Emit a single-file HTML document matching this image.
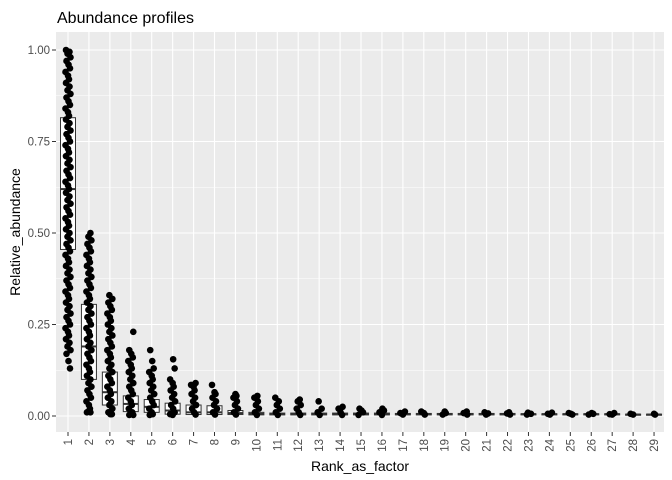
<!DOCTYPE html>
<html><head><meta charset="utf-8"><style>
body{margin:0;background:#fff;}
svg{display:block;font-family:"Liberation Sans",Arial,sans-serif;}
</style></head><body>
<svg id="chart" width="672" height="480" viewBox="0 0 672 480">
<text x="57" y="23" font-size="16" fill="#000">Abundance profiles</text>
<rect x="56" y="32" width="608" height="400" fill="#ebebeb"/>
<g id="grid"></g><g id="boxes"></g><g id="pts"></g><g id="axes"></g>
<text x="360" y="471" font-size="14" text-anchor="middle" fill="#000">Rank_as_factor</text>
<text transform="translate(20,232) rotate(-90)" font-size="14" text-anchor="middle" fill="#000">Relative_abundance</text>
</svg>
<script>
const categories = ["1","2","3","4","5","6","7","8","9","10","11","12","13","14","15","16","17","18","19","20","21","22","23","24","25","26","27","28","29"];
const q1 = [0.455,0.10,0.03,0.012,0.01,0.005,0.004,0.004,0.004,0.003,0.003,0.003,0.003,0.003,0.003,0.003,0.003,0.003,0.003,0.003,0.003,0.003,0.003,0.003,0.003,0.003,0.003,0.002,0.002];
const medians = [0.62,0.19,0.065,0.033,0.025,0.015,0.01,0.01,0.008,0.006,0.005,0.005,0.005,0.005,0.005,0.005,0.005,0.005,0.005,0.005,0.005,0.005,0.005,0.005,0.005,0.005,0.005,0.004,0.004];
const q3 = [0.815,0.305,0.12,0.055,0.045,0.035,0.03,0.028,0.015,0.01,0.008,0.008,0.008,0.008,0.008,0.008,0.007,0.007,0.007,0.007,0.007,0.007,0.006,0.006,0.006,0.006,0.006,0.005,0.005];
const points = [
 [1.0,0.995,0.99,0.98,0.97,0.96,0.95,0.94,0.93,0.92,0.91,0.90,0.89,0.88,0.87,0.86,0.85,0.84,0.83,0.82,0.81,0.80,0.79,0.78,0.77,0.76,0.75,0.74,0.73,0.72,0.71,0.70,0.69,0.68,0.67,0.66,0.65,0.64,0.63,0.62,0.61,0.60,0.59,0.58,0.57,0.56,0.55,0.54,0.53,0.52,0.51,0.50,0.49,0.48,0.47,0.46,0.45,0.44,0.43,0.42,0.41,0.40,0.39,0.38,0.37,0.36,0.35,0.34,0.33,0.32,0.31,0.30,0.29,0.28,0.27,0.26,0.25,0.24,0.23,0.22,0.21,0.20,0.19,0.18,0.17,0.15,0.13],
 [0.50,0.49,0.48,0.47,0.46,0.45,0.44,0.43,0.42,0.41,0.40,0.39,0.38,0.37,0.36,0.35,0.34,0.33,0.32,0.31,0.30,0.29,0.28,0.27,0.26,0.25,0.24,0.23,0.22,0.21,0.20,0.19,0.18,0.17,0.16,0.15,0.14,0.13,0.12,0.11,0.10,0.09,0.08,0.07,0.06,0.05,0.04,0.03,0.02,0.01,0.01,0.012],
 [0.33,0.32,0.31,0.30,0.29,0.28,0.27,0.26,0.25,0.24,0.23,0.22,0.21,0.20,0.19,0.18,0.17,0.16,0.15,0.14,0.13,0.12,0.11,0.10,0.09,0.08,0.07,0.06,0.05,0.04,0.03,0.02,0.01,0.005,0.005],
 [0.23,0.18,0.17,0.16,0.15,0.14,0.13,0.12,0.11,0.10,0.09,0.08,0.07,0.06,0.05,0.04,0.03,0.02,0.01,0.005,0.003,0.003],
 [0.18,0.15,0.13,0.12,0.11,0.10,0.09,0.08,0.07,0.06,0.05,0.04,0.03,0.02,0.01,0.005,0.003],
 [0.155,0.13,0.10,0.09,0.08,0.07,0.06,0.05,0.04,0.03,0.02,0.01,0.005,0.003],
 [0.09,0.085,0.08,0.07,0.06,0.05,0.04,0.03,0.02,0.01,0.004],
 [0.085,0.065,0.06,0.05,0.04,0.03,0.02,0.01,0.004],
 [0.06,0.055,0.05,0.04,0.03,0.02,0.01,0.004],
 [0.055,0.05,0.04,0.03,0.02,0.01,0.003],
 [0.05,0.04,0.03,0.02,0.01,0.003],
 [0.045,0.04,0.03,0.02,0.01,0.003],
 [0.04,0.02,0.01,0.003],
 [0.025,0.02,0.01,0.003],
 [0.02,0.015,0.01,0.003],
 [0.02,0.015,0.01,0.003],
 [0.012,0.008,0.004],[0.012,0.008,0.004],[0.012,0.008,0.004],[0.012,0.008,0.004],
 [0.01,0.007,0.004],[0.01,0.007,0.004],[0.009,0.006,0.004],[0.009,0.006,0.004],
 [0.008,0.006,0.004],[0.008,0.006,0.004],[0.008,0.005,0.004],[0.006,0.004],[0.006,0.004]
];
const yTicks = [0,0.25,0.5,0.75,1.0];
const yTickLabels = ["0.00","0.25","0.50","0.75","1.00"];

const NS="http://www.w3.org/2000/svg";
const xPos = i => 68 + i*20.93;
const yPos = v => 416 - v*366;
function mk(tag, attrs, parent){const e=document.createElementNS(NS,tag);for(const k in attrs)e.setAttribute(k,attrs[k]);parent.appendChild(e);return e;}
const grid=document.getElementById('grid'), boxes=document.getElementById('boxes'), pts=document.getElementById('pts'), axes=document.getElementById('axes');
for(let i=0;i<yTicks.length-1;i++){
  const y=yPos((yTicks[i]+yTicks[i+1])/2);
  const l=mk('line',{x1:56,x2:664,y1:y,y2:y,stroke:'#fff','stroke-width':0.5},grid);
  
  
}
yTicks.forEach((v,i)=>{
  const y=yPos(v);
  const l=mk('line',{x1:56,x2:664,y1:y,y2:y,stroke:'#fff','stroke-width':1.1},grid);
  
  
  const t=mk('line',{x1:52,x2:56,y1:y,y2:y,stroke:'#333','stroke-width':1},axes);
  
  
  const tx=mk('text',{x:50,y:y+4,'font-size':11.5,'text-anchor':'end',fill:'#4d4d4d'},axes);
  tx.textContent=yTickLabels[i];
  
  
});
const jit=[-2,1.5,-0.5,2.5,-1.5,0.5,2,-2.5,0,1];
categories.forEach((c,i)=>{
  const x=xPos(i);
  const g=mk('line',{x1:x,x2:x,y1:32,y2:432,stroke:'#fff','stroke-width':1.1},grid);
  
  
  const bw=15;
  const r=mk('rect',{x:x-bw/2,y:yPos(q3[i]),width:bw,height:Math.max(1,yPos(q1[i])-yPos(q3[i])),fill:'#fff',stroke:'#333','stroke-width':1},boxes);
  
  
  const m=mk('line',{x1:x-bw/2,x2:x+bw/2,y1:yPos(medians[i]),y2:yPos(medians[i]),stroke:'#333','stroke-width':2},boxes);
  
  
  points[i].forEach((v,j)=>{
    const p=mk('circle',{cx:x+jit[(j+i)%jit.length],cy:yPos(v),r:3.3,fill:'#000'},pts);
    
    
  });
  const t=mk('line',{x1:x,x2:x,y1:432,y2:436,stroke:'#333','stroke-width':1},axes);
  
  
  const tx=mk('text',{transform:`translate(${x+4},439) rotate(-90)`,'font-size':11.5,'text-anchor':'end',fill:'#4d4d4d'},axes);
  tx.textContent=c;
  
  
});
</script>
</body></html>
